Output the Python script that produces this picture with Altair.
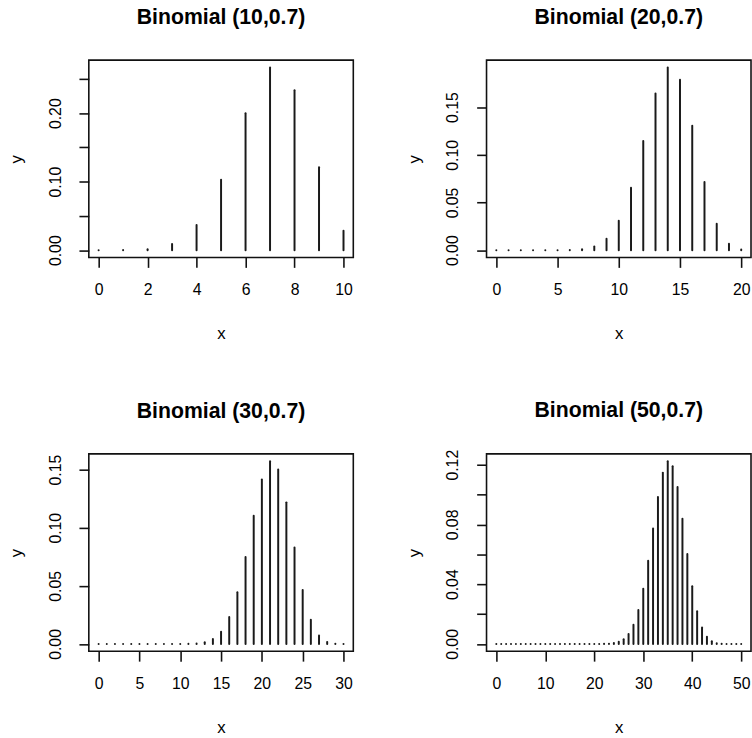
import altair as alt
import pandas as pd

FONT = "Liberation Sans"

# Probabilities (x = 0..n)
p10 = [0.0000059, 0.000138, 0.001447, 0.009002, 0.036757, 0.102919,
       0.200121, 0.266828, 0.233474, 0.121061, 0.028248]
p20 = [0.0, 0.0, 0.0, 0.0, 0.000005, 0.0000374, 0.000218, 0.001018,
       0.003859, 0.012007, 0.030817, 0.065370, 0.114397, 0.164262,
       0.191639, 0.178863, 0.130421, 0.071604, 0.027846, 0.006839, 0.000798]
p30 = [0.0, 0.0, 0.0, 0.0, 0.0, 0.0, 0.0, 0.0, 0.0, 0.000006, 0.0000296,
       0.000126, 0.000464, 0.001499, 0.004246, 0.010567, 0.023115,
       0.044417, 0.074851, 0.110306, 0.141559, 0.157288, 0.150139,
       0.121852, 0.082927, 0.046439, 0.020838, 0.007203, 0.001801,
       0.000290, 0.0000225]
p50 = [0.0] * 20 + [0.0000077, 0.0000258, 0.0000794, 0.000225, 0.000592,
       0.001436, 0.003223, 0.006684, 0.012811, 0.022677, 0.037039,
       0.055757, 0.077247, 0.098314, 0.114700, 0.122347, 0.118948,
       0.105017, 0.083829, 0.060185, 0.038619, 0.021978, 0.010989,
       0.004771, 0.001771, 0.000551, 0.000140, 0.0000277, 0.0000040,
       0.00000039, 0.000000018]

titles = ["Binomial (10,0.7)", "Binomial (20,0.7)",
          "Binomial (30,0.7)", "Binomial (50,0.7)"]
x_ticks = [[0, 2, 4, 6, 8, 10], [0, 5, 10, 15, 20],
           [0, 5, 10, 15, 20, 25, 30], [0, 10, 20, 30, 40, 50]]
y_ticks = [[0, 0.05, 0.10, 0.15, 0.20, 0.25], [0, 0.05, 0.10, 0.15],
           [0, 0.05, 0.10, 0.15], [0, 0.02, 0.04, 0.06, 0.08, 0.10, 0.12]]
y_label_step = [0.10, 0.05, 0.05, 0.04]
title_offsets = [15, 15, 15, 11]

W, H = 268, 200


def panel(probs, title, xt, yt, step, toff):
    n = len(probs) - 1
    df = pd.DataFrame({"x": list(range(n + 1)), "y": probs,
                       "y0": [0.0] * (n + 1)})
    xpad = n * 0.04
    ymax = max(probs)
    ypad = ymax * 0.04
    label_expr = (f"abs(datum.value/{step} - round(datum.value/{step})) < 0.001"
                  f" ? format(datum.value, '.2f') : ''")
    return alt.Chart(df).mark_rule(
        color="#1a1a1a", strokeWidth=2, strokeCap="round"
    ).encode(
        x=alt.X("x:Q", scale=alt.Scale(domain=[-xpad, n + xpad], nice=False, zero=False),
                axis=alt.Axis(values=xt, format="d", title="x",
                              labelBaseline="alphabetic", labelPadding=28,
                              titleY=82, titleBaseline="alphabetic",
                              titleFontSize=17)),
        y=alt.Y("y:Q", scale=alt.Scale(domain=[-ypad, ymax + ypad], nice=False, zero=False),
                axis=alt.Axis(values=yt, labelExpr=label_expr, title="y",
                              labelAngle=270, labelAlign="center",
                              labelBaseline="alphabetic", labelPadding=19,
                              titleAngle=270, titleX=-68, titleY=H / 2,
                              titleAlign="center", titleBaseline="alphabetic",
                              titleFontSize=17)),
        y2="y0:Q",
    ).properties(
        width=W, height=H,
        title=alt.TitleParams(title, fontSize=21.5, font=FONT, fontWeight="bold",
                              frame="group", baseline="alphabetic", offset=toff,
                              color="black"),
    )


charts = [panel(p, t, xt, yt, s, o) for p, t, xt, yt, s, o in
          zip([p10, p20, p30, p50], titles, x_ticks, y_ticks, y_label_step,
              title_offsets)]

chart = alt.vconcat(
    alt.hconcat(charts[0], charts[1], spacing=51),
    alt.hconcat(charts[2], charts[3], spacing=51),
    spacing=58,
).properties(
    padding={"left": 7, "top": 1, "right": 0, "bottom": 0},
    background="white",
).configure_view(
    stroke="#111", strokeWidth=1.6
).configure_axis(
    domain=False, grid=False, tickColor="#111", tickSize=10, tickWidth=1.6,
    labelFont=FONT, labelFontSize=16, labelColor="black",
    titleFont=FONT, titleFontWeight="normal", titleColor="black",
)

chart.save("out.html", embed_options={"renderer": "svg", "actions": False})
